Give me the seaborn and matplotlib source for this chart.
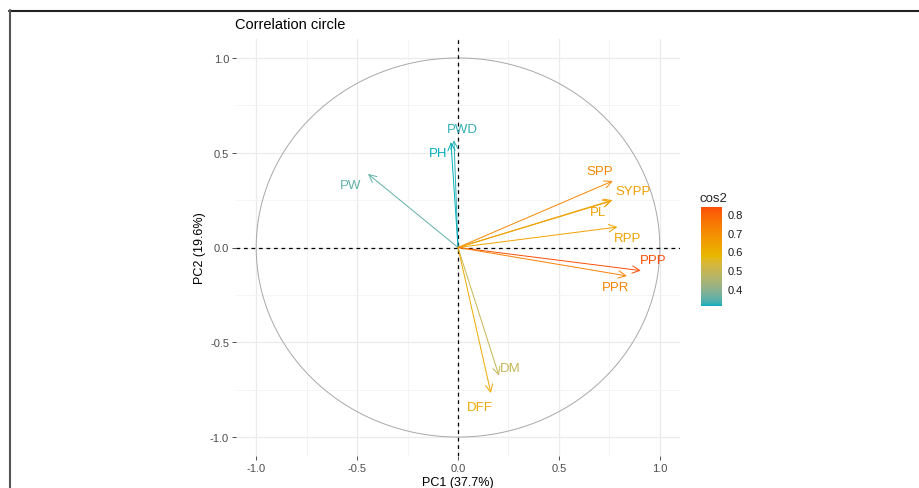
import numpy as np
import matplotlib
matplotlib.use("Agg")
import matplotlib.pyplot as plt
import seaborn as sns
from matplotlib.colors import ListedColormap, Normalize, to_rgb
from matplotlib.cm import ScalarMappable
from matplotlib.lines import Line2D

# variable coordinates on PC1 / PC2
variables = ["PW", "PWD", "PH", "SPP", "SYPP", "PL", "RPP", "PPP", "PPR", "DM", "DFF"]
pc1 = np.array([-0.446, -0.020, -0.035, 0.767, 0.765, 0.760, 0.790, 0.906, 0.837, 0.203, 0.163])
pc2 = np.array([0.388, 0.566, 0.556, 0.351, 0.250, 0.245, 0.108, -0.122, -0.150, -0.676, -0.768])
cos2 = pc1 ** 2 + pc2 ** 2
gradient_cols = ["#00AFBB", "#E7B800", "#FC4E07"]

# label nudges in pixels (repel placement)
nudge = {
    "PW": (-17, -11), "PWD": (8, 11), "PH": (-13, -11), "SPP": (-13, 10),
    "SYPP": (21, 9), "PL": (-13, -11), "RPP": (10, -11), "PPP": (12, 11),
    "PPR": (-11, -11), "DM": (11, 8), "DFF": (-11, -14),
}


# ggplot interpolates gradients in Lab space
M = np.array([[0.4124, 0.3576, 0.1805], [0.2126, 0.7152, 0.0722], [0.0193, 0.1192, 0.9505]])
WHITE = np.array([0.95047, 1.0, 1.08883])


def rgb2lab(c):
    c = np.array(c)
    lin = np.where(c <= 0.04045, c / 12.92, ((c + 0.055) / 1.055) ** 2.4)
    xyz = M @ lin / WHITE
    f = np.where(xyz > 0.008856, np.cbrt(xyz), 7.787 * xyz + 16 / 116)
    return np.array([116 * f[1] - 16, 500 * (f[0] - f[1]), 200 * (f[1] - f[2])])


def lab2rgb(lab):
    fy = (lab[0] + 16) / 116
    fx = fy + lab[1] / 500
    fz = fy - lab[2] / 200
    f = np.array([fx, fy, fz])
    xyz = np.where(f ** 3 > 0.008856, f ** 3, (f - 16 / 116) / 7.787) * WHITE
    lin = np.linalg.solve(M, xyz)
    lin = np.clip(lin, 0, 1)
    return np.where(lin <= 0.0031308, 12.92 * lin, 1.055 * lin ** (1 / 2.4) - 0.055)


labs = [rgb2lab(to_rgb(c)) for c in gradient_cols]
samples = []
for t in np.linspace(0, 1, 256):
    seg = min(int(t * 2), 1)
    u = t * 2 - seg
    samples.append(np.clip(lab2rgb(labs[seg] * (1 - u) + labs[seg + 1] * u), 0, 1))
cmap = ListedColormap(samples)
norm = Normalize(cos2.min(), cos2.max())

sns.set_theme(style="whitegrid")
plt.rcParams["font.family"] = ["Liberation Sans", "DejaVu Sans"]
plt.rcParams["axes.unicode_minus"] = False

fig = plt.figure(figsize=(9.19, 4.89), dpi=100)
ax = fig.add_axes([236 / 919, 1 - 457 / 489, 444 / 919, 417 / 489])

# grid
ax.set_xlim(-1.1, 1.1)
ax.set_ylim(-1.1, 1.1)
ticks = [-1.0, -0.5, 0.0, 0.5, 1.0]
ax.set_xticks(ticks)
ax.set_yticks(ticks)
ax.set_xticks([-0.75, -0.25, 0.25, 0.75], minor=True)
ax.set_yticks([-0.75, -0.25, 0.25, 0.75], minor=True)
ax.set_xticklabels(["-1.0", "-0.5", "0.0", "0.5", "1.0"])
ax.set_yticklabels(["-1.0", "-0.5", "0.0", "0.5", "1.0"])
ax.grid(which="major", color="#EBEBEB", lw=0.9)
ax.grid(which="minor", color="#F3F3F3", lw=0.6)
ax.set_facecolor("white")
for s in ax.spines.values():
    s.set_visible(False)
ax.tick_params(which="major", length=3, width=0.6, color="#333333",
               labelsize=8, labelcolor="#4D4D4D", pad=2, bottom=True, left=True)
ax.tick_params(which="minor", length=0)

# unit circle
theta = np.linspace(0, 2 * np.pi, 400)
sns.lineplot(x=np.cos(theta), y=np.sin(theta), sort=False, estimator=None,
             color="#A8A8A8", lw=0.7, ax=ax, zorder=2)

ax.axhline(0, color="black", ls=(0, (3, 3)), lw=0.9, zorder=3)
ax.axvline(0, color="black", ls=(0, (3, 3)), lw=0.9, zorder=3)

for name, x, y, c in zip(variables, pc1, pc2, cos2):
    col = cmap(norm(c))
    ax.annotate("", xy=(x, y), xytext=(0, 0),
                arrowprops=dict(arrowstyle="->,head_length=0.45,head_width=0.22",
                                color=col, lw=0.7, shrinkA=0, shrinkB=0), zorder=4)
    dx, dy = nudge[name]
    ax.annotate(name, xy=(x, y), xytext=(dx, dy), textcoords="offset pixels",
                ha="center", va="center", color=col, fontsize=9.5, zorder=5)

ax.set_xlabel("PC1 (37.7%)", fontsize=9, color="black", labelpad=2)
ax.set_ylabel("PC2 (19.6%)", fontsize=9, color="black", labelpad=3)
fig.text(235 / 919, 1 - 25 / 489, "Correlation circle", fontsize=10.5,
         ha="left", va="center", color="black")

# colour bar
cax = fig.add_axes([701 / 919, 1 - 307 / 489, 21 / 919, 99 / 489])
cb = fig.colorbar(ScalarMappable(norm=norm, cmap=cmap), cax=cax)
cb.outline.set_visible(False)
cb.set_ticks([0.4, 0.5, 0.6, 0.7, 0.8])
cax.tick_params(left=True, right=True, labelleft=False, labelright=True,
                direction="in", color="white", length=3, width=0.8,
                labelsize=8, labelcolor="#1A1A1A", pad=4)
fig.text(699 / 919, 1 - 199 / 489, "cos2", fontsize=9.5, ha="left", va="center")

# outer frame
fig.add_artist(Line2D([9 / 919, 1], [1 - 11.5 / 489] * 2, color="#222222", lw=1.5,
                      transform=fig.transFigure))
fig.add_artist(Line2D([9.5 / 919] * 2, [0, 1 - 11 / 489], color="#555555", lw=1.5,
                      transform=fig.transFigure))

fig.savefig("out.png", dpi=100)
